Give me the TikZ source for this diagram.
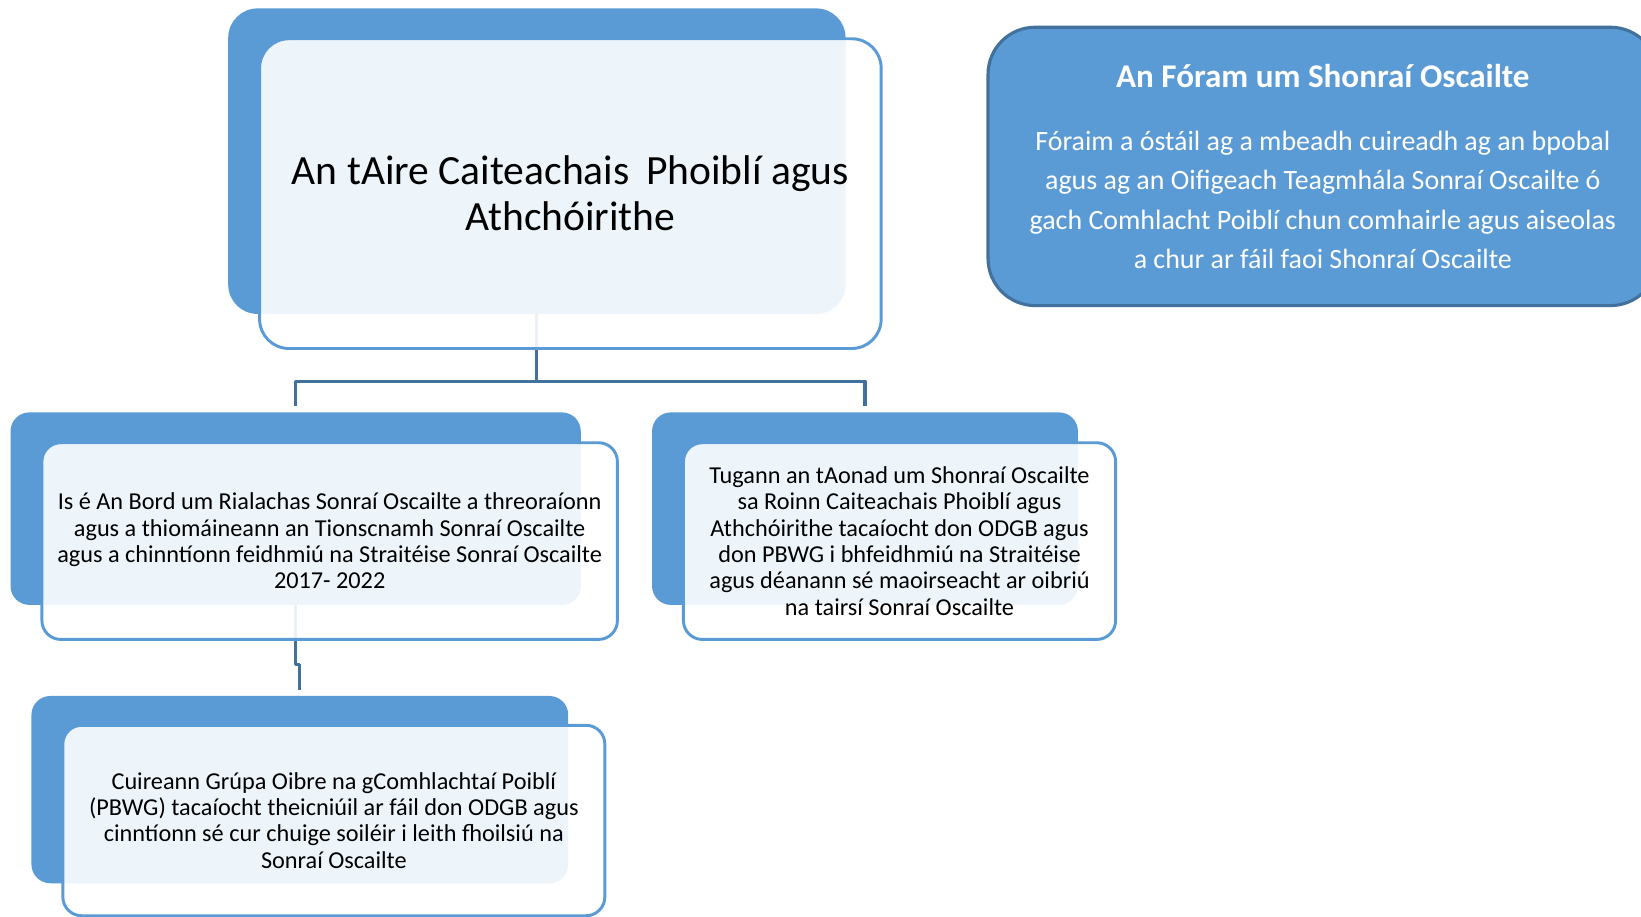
\documentclass[tikz,border=0pt]{standalone}
\usepackage{fontspec}
\setmainfont{Carlito}
\definecolor{oblue}{HTML}{5B9BD5}
\definecolor{odark}{HTML}{41719C}

\begin{document}
\begin{tikzpicture}[x=0.02cm, y=-0.02cm, line join=round]
  \tikzstyle{back}=[fill=oblue, rounded corners=0.36cm, inner sep=0pt]
  \tikzstyle{front}=[draw=oblue, line width=1.6pt, fill=white, fill opacity=0.9, text opacity=1, rounded corners=0.36cm, inner sep=0pt, align=center]
  \tikzstyle{link}=[draw=odark, line width=1.7pt, shorten >=0.12cm]
  \tikzstyle{small}=[font=\fontsize{13.2}{14.3}\selectfont]

  \clip (0,0) rectangle (1568,876);

  % back panels
  \node[back, rounded corners=0.56cm, minimum width=11.8cm, minimum height=5.84cm] (aire) at (513,154) {};
  \node[back, minimum width=10.9cm, minimum height=3.68cm] (bord) at (282.5,486) {};
  \node[back, minimum width=8.14cm, minimum height=3.68cm] (aonad) at (826.5,486) {};
  \node[back, minimum width=10.26cm, minimum height=3.58cm] (grupa) at (286.5,754.5) {};

  % connectors
  \draw[link] (aire.south) -- ++(0,64) -| (bord.north);
  \draw[link] (aire.south) -- ++(0,64) -| (aonad.north);
  \draw[link, shorten >=0.1cm] (bord.south) -- ++(0,57) -| (grupa.north);

  % front panels
  \node[front, rounded corners=0.56cm, minimum width=11.88cm, minimum height=5.92cm,
        font=\fontsize{22.6}{25}\selectfont] (airef) at (545,185)
    {An tAire Caiteachais\hspace{4pt} Phoiblí agus\\Athchóirithe};
  \node[front, small, minimum width=11cm, minimum height=3.76cm] (bordf) at (315,517)
    {Is é An Bord um Rialachas Sonraí Oscailte a threoraíonn\\
     agus a thiomáineann an Tionscnamh Sonraí Oscailte\\
     agus a chinntíonn feidhmiú na Straitéise Sonraí Oscailte\\
     2017- 2022};
  \node[front, small, minimum width=8.26cm, minimum height=3.76cm] (aonadf) at (859.5,517)
    {Tugann an tAonad um Shonraí Oscailte\\
     sa Roinn Caiteachais Phoiblí agus\\
     Athchóirithe tacaíocht don ODGB agus\\
     don PBWG i bhfeidhmiú na Straitéise\\
     agus déanann sé maoirseacht ar oibriú\\
     na tairsí Sonraí Oscailte};
  \node[front, small, minimum width=10.36cm, minimum height=3.64cm] (grupaf) at (319,784)
    {Cuireann Grúpa Oibre na gComhlachtaí Poiblí\\
     (PBWG) tacaíocht theicniúil ar fáil don ODGB agus\\
     cinntíonn sé cur chuige soiléir i leith fhoilsiú na\\
     Sonraí Oscailte};

  % forum box
  \node[fill=oblue, draw=odark, line width=1.7pt, rounded corners=0.9cm, text=white, align=center,
        minimum width=12.8cm, minimum height=5.32cm, inner sep=0pt,
        font=\fontsize{15.2}{21.3}\selectfont] (foram) at (1264,159)
    {{\fontsize{18}{18}\selectfont\bfseries An Fóram um Shonraí Oscailte}\\[13pt]
     Fóraim a óstáil ag a mbeadh cuireadh ag an bpobal\\
     agus ag an Oifigeach Teagmhála Sonraí Oscailte ó\\
     gach Comhlacht Poiblí chun comhairle agus aiseolas\\
     a chur ar fáil faoi Shonraí Oscailte};

\end{tikzpicture}
\end{document}
